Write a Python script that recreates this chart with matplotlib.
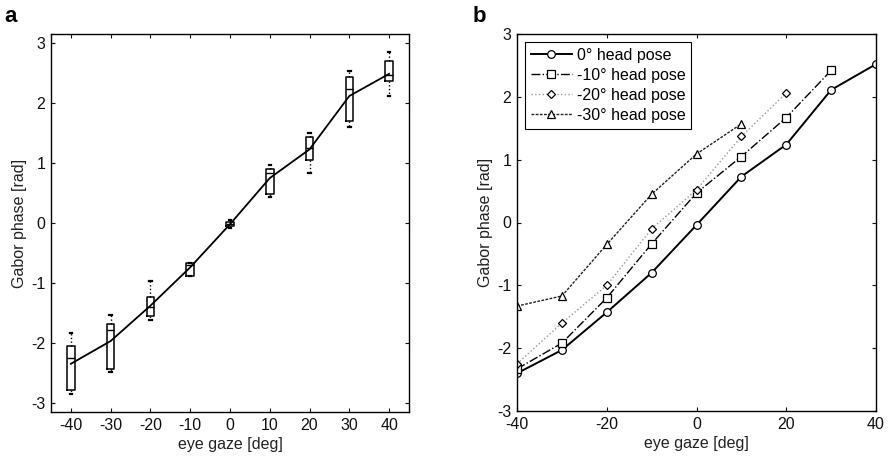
import matplotlib
matplotlib.use("Agg")
import matplotlib.pyplot as plt
from matplotlib import font_manager as fm

# make sure the regular (not narrow) Liberation Sans is used
fm.fontManager.ttflist = [f for f in fm.fontManager.ttflist
                          if 'Narrow' not in f.fname]
plt.rcParams['font.family'] = ['Liberation Sans', 'DejaVu Sans']
plt.rcParams['axes.unicode_minus'] = False

# ---- panel a data ----
gaze_a = [-40, -30, -20, -10, 0, 10, 20, 30, 40]
box_q1 = [-2.78, -2.43, -1.55, -0.88, -0.05, 0.48, 1.06, 1.71, 2.37]
box_q3 = [-2.06, -1.68, -1.23, -0.66, 0.02, 0.90, 1.43, 2.43, 2.71]
box_med = [-2.26, -1.79, -1.40, -0.70, -0.02, 0.83, 1.25, 2.23, 2.47]
whis_lo = [-2.86, -2.49, -1.62, -0.88, -0.08, 0.44, 0.83, 1.61, 2.12]
whis_hi = [-1.83, -1.54, -0.97, -0.66, 0.05, 0.97, 1.51, 2.53, 2.86]
mean_a = [-2.35, -1.97, -1.38, -0.74, -0.02, 0.75, 1.23, 2.12, 2.49]

# ---- panel b data ----
gaze_b = [-40, -30, -20, -10, 0, 10, 20, 30, 40]
head0 = [-2.40, -2.03, -1.43, -0.80, -0.04, 0.73, 1.24, 2.11, 2.52]
head10 = [-2.33, -1.92, -1.20, -0.34, 0.47, 1.05, 1.67, 2.42]
head20 = [-2.25, -1.60, -1.00, -0.10, 0.52, 1.37, 2.06]
head30 = [-1.33, -1.17, -0.35, 0.45, 1.09, 1.57]
labels_b = ['0° head pose', '-10° head pose', '-20° head pose', '-30° head pose']

FS = 11.5
fig = plt.figure(figsize=(8.9, 4.57), dpi=100)

def style(ax):
    ax.tick_params(direction='in', top=True, right=True, labelsize=FS,
                   length=3, width=0.8, colors='#111111', pad=4)
    for s in ax.spines.values():
        s.set_linewidth(1.0)

# panel a
axa = fig.add_axes([51/890, 45/457, 358/890, 378/457])
stats = []
for i in range(len(gaze_a)):
    stats.append(dict(med=box_med[i], q1=box_q1[i], q3=box_q3[i],
                      whislo=whis_lo[i], whishi=whis_hi[i], fliers=[]))
axa.bxp(stats, positions=gaze_a, widths=1.9, showfliers=False,
        boxprops=dict(color='black', linewidth=1.1),
        medianprops=dict(color='black', linewidth=1.0),
        whiskerprops=dict(color='black', linewidth=1.0, linestyle=':'),
        capprops=dict(color='black', linewidth=1.6), capwidths=0.6,
        manage_ticks=False)
axa.plot(gaze_a, mean_a, color='black', linewidth=1.3)
axa.set_xlim(-45, 45)
axa.set_ylim(-3.155, 3.155)
axa.set_xticks(gaze_a)
axa.set_yticks([-3, -2, -1, 0, 1, 2, 3])
axa.set_xlabel('eye gaze [deg]', fontsize=FS, labelpad=3, color='#222222')
axa.set_ylabel('Gabor phase [rad]', fontsize=FS, labelpad=3, color='#222222')
style(axa)
fig.text(4/890, 1 - 22/457, 'a', fontsize=16, fontweight='bold')

# panel b
axb = fig.add_axes([517/890, 46/457, 359/890, 377/457])
mk = dict(markerfacecolor='white', markeredgecolor='black', markersize=5.5,
          markeredgewidth=0.9)
axb.plot(gaze_b[:len(head0)], head0, '-', color='black', linewidth=1.4,
         marker='o', label=labels_b[0], **mk)
axb.plot(gaze_b[:len(head10)], head10, '-.', color='black', linewidth=1.0,
         marker='s', label=labels_b[1], **mk)
axb.plot(gaze_b[:len(head20)], head20, ':', color='#999999', linewidth=1.0,
         marker='D', label=labels_b[2], **dict(mk, markersize=4.5))
axb.plot(gaze_b[:len(head30)], head30, '--', color='#222222', linewidth=1.0,
         marker='^', label=labels_b[3], dashes=(2, 1), **mk)
axb.set_xlim(-40, 40)
axb.set_ylim(-3, 3)
axb.set_xticks([-40, -20, 0, 20, 40])
axb.set_yticks([-3, -2, -1, 0, 1, 2, 3])
axb.set_xlabel('eye gaze [deg]', fontsize=FS, labelpad=3, color='#222222')
axb.set_ylabel('Gabor phase [rad]', fontsize=FS, labelpad=3, color='#222222')
style(axb)
leg = axb.legend(loc='upper left', fontsize=FS, frameon=True, fancybox=False,
                 edgecolor='black', framealpha=1, borderpad=0.35,
                 handlelength=2.6, handletextpad=0.3, labelspacing=0.32,
                 borderaxespad=0.5)
leg.get_frame().set_linewidth(0.8)
fig.text(473/890, 1 - 22/457, 'b', fontsize=16, fontweight='bold')

fig.savefig('out.png', dpi=100, facecolor='white')
